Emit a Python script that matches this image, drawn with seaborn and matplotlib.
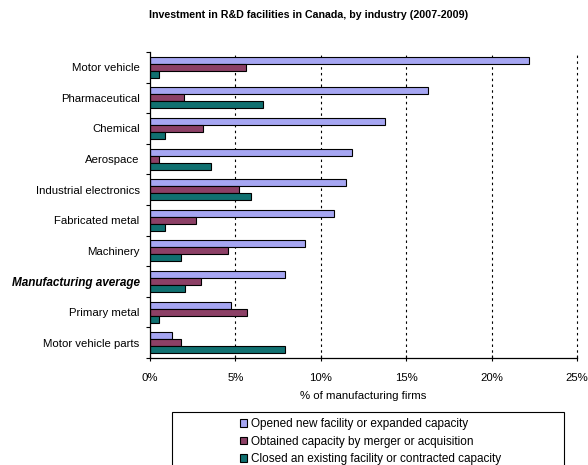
import matplotlib
matplotlib.use("Agg")
import matplotlib.pyplot as plt
import seaborn as sns
import pandas as pd
from matplotlib.patches import Rectangle
from matplotlib.ticker import FixedLocator, PercentFormatter

industries = ["Motor vehicle", "Pharmaceutical", "Chemical", "Aerospace",
              "Industrial electronics", "Fabricated metal", "Machinery",
              "Manufacturing average", "Primary metal", "Motor vehicle parts"]
opened = [22.2, 16.3, 13.75, 11.8, 11.5, 10.8, 9.1, 7.9, 4.75, 1.27]
merged = [5.6, 2.0, 3.1, 0.5, 5.2, 2.7, 4.55, 3.0, 5.7, 1.8]
closed = [0.5, 6.6, 0.9, 3.6, 5.9, 0.9, 1.8, 2.07, 0.5, 7.9]
series = ["Opened new facility or expanded capacity",
          "Obtained capacity by merger or acquisition",
          "Closed an existing facility or contracted capacity"]
colors = ["#9999FF", "#993366", "#008080"]
title = "Investment in R&D facilities in Canada, by industry (2007-2009)"
xlabel = "% of manufacturing firms"
xticks = [0, 5, 10, 15, 20, 25]

df = pd.DataFrame({
    "industry": industries * 3,
    "value": opened + merged + closed,
    "series": [series[0]] * 10 + [series[1]] * 10 + [series[2]] * 10,
})

sns.set_style("white")
plt.rcParams["font.family"] = ["Liberation Sans", "DejaVu Sans"]
plt.rcParams["text.color"] = "black"
plt.rcParams["axes.labelcolor"] = "black"
plt.rcParams["xtick.color"] = "black"
plt.rcParams["ytick.color"] = "black"

fig = plt.figure(figsize=(5.88, 4.65), dpi=100)
W, H = 588, 465
ax = fig.add_axes([150 / W, 1 - 358 / H, (577 - 150) / W, (358 - 52) / H])

sns.barplot(data=df, y="industry", x="value", hue="series", order=industries,
            hue_order=series, palette=colors, orient="h", width=0.69,
            edgecolor="black", linewidth=0.8, ax=ax, legend=True)

ax.set_xlim(0, 25)
ax.set_ylim(9.5, -0.5)
ax.xaxis.set_major_locator(FixedLocator(xticks))
ax.xaxis.set_major_formatter(PercentFormatter(decimals=0))
for x in xticks[1:]:
    ax.axvline(x, color="black", linewidth=0.8, linestyle=(0, (2.2, 3.0)),
               zorder=0, clip_on=False)

for s in ["top", "right"]:
    ax.spines[s].set_visible(False)
for s in ["left", "bottom"]:
    ax.spines[s].set_color("black")
    ax.spines[s].set_linewidth(0.9)

ax.tick_params(axis="x", direction="inout", length=5, width=0.8, pad=8,
               labelsize=8.2, colors="black", bottom=True)
ax.tick_params(axis="y", which="major", length=0, pad=7.5, labelsize=8.2,
               labelcolor="black")
ax.yaxis.set_minor_locator(FixedLocator([i - 0.5 for i in range(11)]))
ax.tick_params(axis="y", which="minor", direction="out", length=3, width=0.8,
               left=True, color="black")
for lbl in ax.get_yticklabels():
    if lbl.get_text() == "Manufacturing average":
        lbl.set_fontweight("bold")
        lbl.set_fontstyle("italic")
        lbl.set_fontsize(8.5)

ax.set_ylabel("")
ax.set_xlabel(xlabel, fontsize=8.2, labelpad=6, color="black")

fig.text(309 / W, 1 - 15 / H, title, ha="center", va="center",
         fontsize=7.7, fontweight="bold", color="black")

handles, labels = ax.get_legend_handles_labels()
ax.get_legend().remove()
fig.patches.append(Rectangle((172 / W, 1 - 467 / H), (564 - 172) / W, (467 - 412) / H,
                             transform=fig.transFigure, fill=False,
                             edgecolor="black", linewidth=0.8))
fig.legend(handles, labels, loc="upper left", bbox_to_anchor=(240 / W, 1 - 418 / H),
           frameon=False, fontsize=8.5, handlelength=0.6, handleheight=0.6,
           handletextpad=0.32, labelspacing=0.47, borderpad=0, borderaxespad=0,
           labelcolor="black")

fig.savefig("out.png", dpi=100)
